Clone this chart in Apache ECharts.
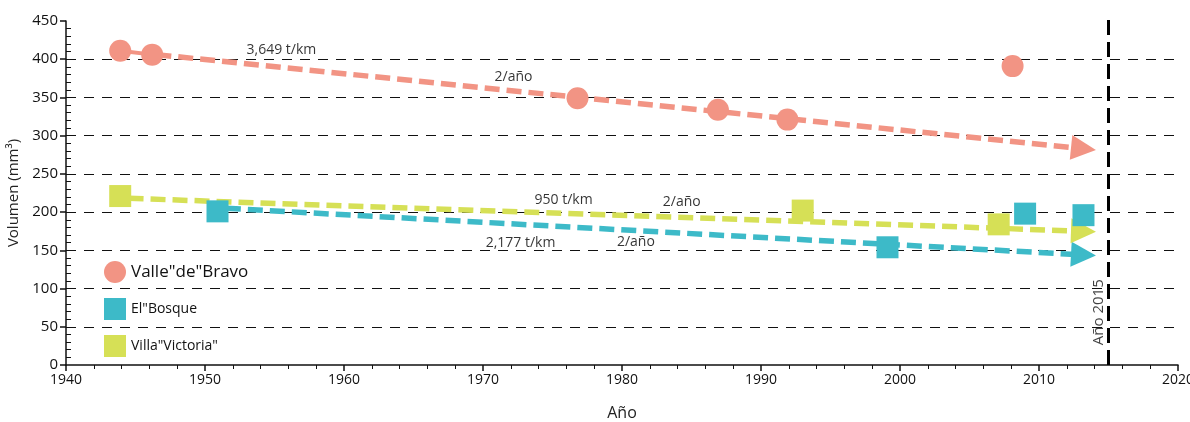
<!DOCTYPE html>
<html>
<head>
<meta charset="utf-8">
<script src="https://cdn.jsdelivr.net/npm/echarts@6/dist/echarts.min.js"></script>
<style>html,body{margin:0;padding:0;background:#fff;}#c{width:1190px;height:422px;}</style>
</head>
<body>
<div id="c"></div>
<script>
// Data
const valleName = 'Valle"de"Bravo';
const bosqueName = 'El"Bosque';
const villaName = 'Villa"Victoria"';
const valleYears = [1943.9, 1946.2, 1976.8, 1986.9, 1991.9, 2008.1];
const valleValues = [411, 406, 349, 334, 321, 391];
const bosqueYears = [1950.9, 1999.1, 2009.0, 2013.2];
const bosqueValues = [201, 154, 198, 196];
const villaYears = [1943.9, 1993.0, 2007.1];
const villaValues = [221, 202, 184];
const valleTrend = [[1946.5, 406], [2013.2, 283]];
const bosqueTrend = [[1951.5, 205], [2013.2, 144]];
const villaTrend = [[1944.5, 218], [2013.2, 175]];
const labels = [
  ['3,649 t/km', 1955.5, 412],
  ['2/año', 1972.2, 377],
  ['950 t/km', 1975.8, 216],
  ['2/año', 1984.3, 213],
  ['2,177 t/km', 1972.7, 160],
  ['2/año', 1981.0, 161]
];
const refYear = 2015;
const refLabel = 'Año 2015';

const cSalmon = '#F29484', cTeal = '#3DBAC8', cLime = '#D6E056';
const font = '"Open Sans", Lato, sans-serif';
const zip = (a, b) => a.map((v, i) => [v, b[i]]);

function trend(data, color) {
  return {
    type: 'lines', coordinateSystem: 'cartesian2d', polyline: false, z: 2,
    symbol: ['none', 'triangle'], symbolSize: [17, 25],
    lineStyle: { color: color, width: 5.5, type: [15, 7], opacity: 1, curveness: 0 },
    data: [{ coords: data }]
  };
}

const chart = echarts.init(document.getElementById('c'));
const xBase = { type: 'value', min: 1940, max: 2020, interval: 10 };
const yBase = { type: 'value', min: 0, max: 450, interval: 50 };
chart.setOption({
  animation: false,
  grid: { left: 66, right: 12, top: 21, bottom: 57, containLabel: false, outerBoundsMode: 'none' },
  xAxis: [
    Object.assign({}, xBase, {
      name: 'Año', nameLocation: 'middle', nameGap: 40,
      nameTextStyle: { fontFamily: font, fontSize: 16, color: '#222' },
      axisLine: { lineStyle: { color: '#111', width: 1.5 } },
      axisTick: { length: 6, lineStyle: { color: '#111', width: 1.5 } },
      axisLabel: { fontFamily: font, fontSize: 14, color: '#111', margin: 8, formatter: v => String(v) },
      splitLine: { show: false }
    }),
    Object.assign({}, xBase, {
      axisLine: { show: false },
      axisTick: { show: false, inside: true },
      minorTick: { show: true, splitNumber: 5, length: 4, lineStyle: { color: '#111', width: 1 } },
      axisLabel: { show: false }, splitLine: { show: false }
    })
  ],
  yAxis: [
    Object.assign({}, yBase, {
      name: 'Volumen (mm³)', nameLocation: 'middle', nameGap: 43,
      nameTextStyle: { fontFamily: font, fontSize: 15, color: '#222' },
      axisLine: { show: true, lineStyle: { color: '#111', width: 1.5 } },
      axisTick: { show: true, length: 6, lineStyle: { color: '#111', width: 1.5 } },
      axisLabel: { fontFamily: font, fontSize: 15, color: '#111', margin: 8 },
      splitLine: { show: true, showMinLine: false, showMaxLine: false,
        lineStyle: { color: '#111', width: 1.2, type: [10, 8] } }
    }),
    Object.assign({}, yBase, {
      position: 'left',
      axisLine: { show: false },
      axisTick: { show: false, inside: true },
      minorTick: { show: true, splitNumber: 5, length: 5, lineStyle: { color: '#111', width: 1 } },
      axisLabel: { show: false }, splitLine: { show: false }
    })
  ],
  legend: [
    { left: 104, top: 261, padding: 0, orient: 'vertical', itemWidth: 22, itemHeight: 22, itemGap: 0,
      icon: 'circle', data: [valleName],
      textStyle: { fontFamily: font, fontSize: 17, color: '#111' } },
    { left: 104, top: 298, padding: 0, orient: 'vertical', itemWidth: 22, itemHeight: 22, itemGap: 0,
      icon: 'rect', data: [bosqueName],
      textStyle: { fontFamily: font, fontSize: 14, color: '#111' } },
    { left: 104, top: 335, padding: 0, orient: 'vertical', itemWidth: 22, itemHeight: 22, itemGap: 0,
      icon: 'rect', data: [villaName],
      textStyle: { fontFamily: font, fontSize: 14, color: '#111' } }
  ],
  series: [
    trend(valleTrend, cSalmon),
    trend(bosqueTrend, cTeal),
    trend(villaTrend, cLime),
    {
      type: 'line', data: zip(valleYears, valleValues).slice(0, 2), symbol: 'none', z: 2,
      lineStyle: { color: cSalmon, width: 4 }, silent: true
    },
    {
      name: valleName, type: 'scatter', symbol: 'circle', symbolSize: 22, z: 4,
      itemStyle: { color: cSalmon, opacity: 1 }, data: zip(valleYears, valleValues)
    },
    {
      name: bosqueName, type: 'scatter', symbol: 'rect', symbolSize: 22, z: 4,
      itemStyle: { color: cTeal, opacity: 1 }, data: zip(bosqueYears, bosqueValues)
    },
    {
      name: villaName, type: 'scatter', symbol: 'rect', symbolSize: 22, z: 3,
      itemStyle: { color: cLime, opacity: 1 }, data: zip(villaYears, villaValues)
    },
    {
      type: 'scatter', symbolSize: 0, z: 5, silent: true,
      data: labels.map(l => ({ value: [l[1], l[2]], name: l[0] })),
      label: { show: true, position: 'inside', formatter: p => p.name,
        fontFamily: font, fontSize: 14, color: '#000' }
    },
    {
      type: 'lines', coordinateSystem: 'cartesian2d', z: 6, clip: false, symbol: 'none',
      lineStyle: { color: '#000', width: 3, type: [15, 7], opacity: 1 },
      data: [{ coords: [[refYear, 0], [refYear, 460]] }]
    },
    {
      type: 'scatter', symbolSize: 0, z: 5, silent: true,
      data: [{ value: [2014.3, 69], name: refLabel }],
      label: { show: true, position: 'inside', rotate: 90, formatter: p => p.name,
        fontFamily: font, fontSize: 15, color: '#111' }
    }
  ]
});
</script>
</body>
</html>
